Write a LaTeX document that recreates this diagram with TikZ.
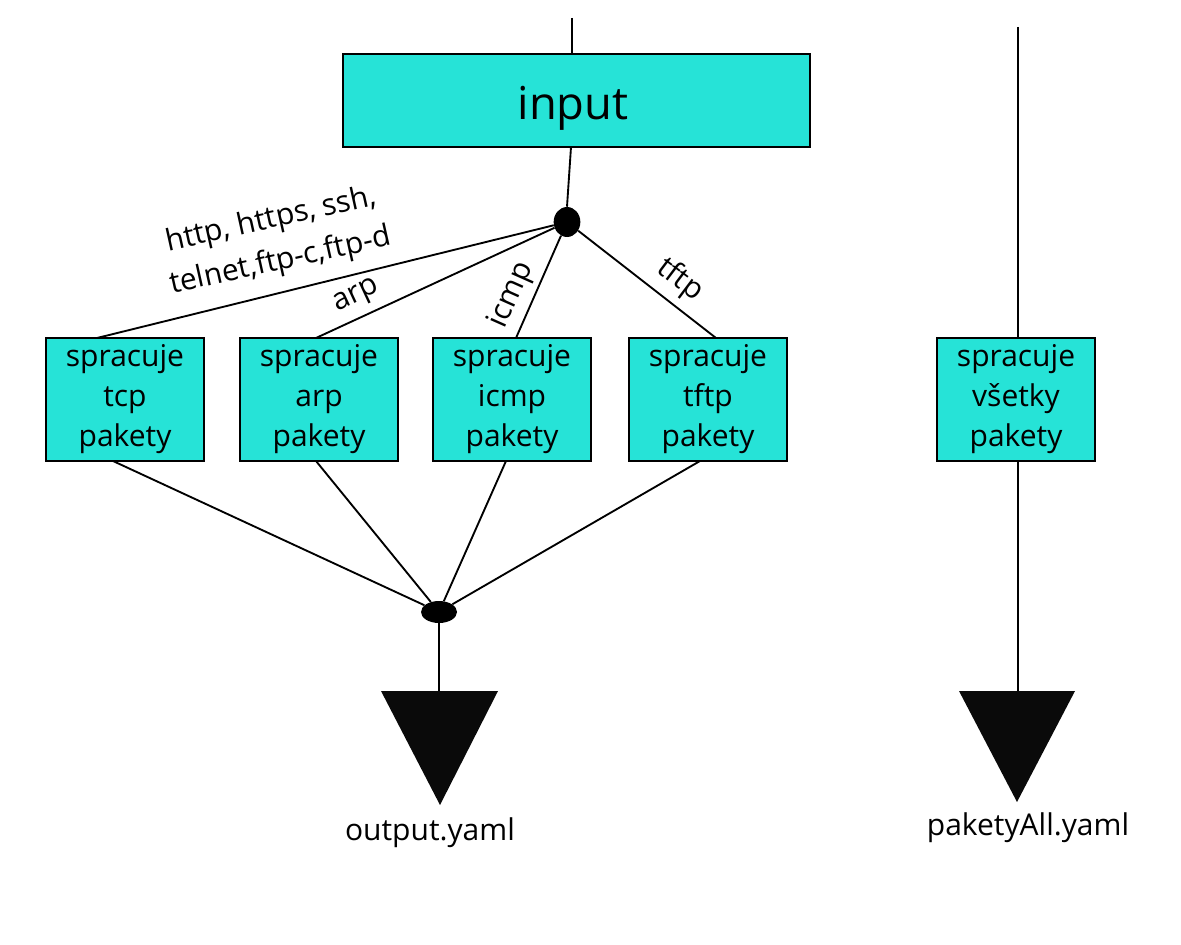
\documentclass[tikz,border=0pt]{standalone}
\usepackage{fontspec}
\setmainfont{Open Sans}
\usetikzlibrary{shapes.geometric}
\definecolor{turq}{RGB}{38,227,215}
\definecolor{ink}{RGB}{10,10,10}
\begin{document}
\begin{tikzpicture}[x=0.75pt,y=-0.75pt,
 box/.style={draw=black, line width=1pt, fill=turq, inner sep=0pt, align=center,
   minimum width=118.5pt, minimum height=92.25pt, font=\fontsize{22.5}{30}\selectfont},
 ln/.style={line width=1.4pt},
 lbl/.style={font=\fontsize{22.5}{32}\selectfont, inner sep=0pt, align=center},
 dot/.style={ellipse, fill=black, inner sep=0pt}]
\useasboundingbox (0,0) rectangle (1181,945);
\fill[white] (0,0) rectangle (1181,945);
% input
\node[box, minimum width=350.25pt, minimum height=69.75pt] (input) at (576.5,100.5) {};
\node[font=\fontsize{34}{40}\selectfont, inner sep=0pt] (intext) at (573,108) {input};
\coordinate (top1) at (572,18);
\draw[ln] (top1) -- (input.north -| top1);
% split node
\node[dot, minimum width=20pt, minimum height=22.5pt] (e1) at (567,222) {};
\coordinate (inb) at (571,147);
\draw[ln] (inb) -- (e1.north);
% boxes
\node[box] (tcp) at (125,399.5) {spracuje\\tcp\\pakety};
\node[box] (arp) at (319,399.5) {spracuje\\arp\\pakety};
\node[box] (icmp) at (512,399.5) {spracuje\\icmp\\pakety};
\node[box] (tftp) at (708,399.5) {spracuje\\tftp\\pakety};
\node[box] (all) at (1016,399.5) {spracuje\\všetky\\pakety};
% attachment points
\coordinate (a1) at (97,338);
\coordinate (a2) at (316,338);
\coordinate (a3) at (516,338);
\coordinate (a4) at (716,338);
\draw[ln] (e1) -- (a1);
\draw[ln] (e1) -- (a2);
\draw[ln] (e1) -- (a3);
\draw[ln] (e1) -- (a4);
% labels
\node[lbl, rotate=12.5] (l1) at (276,241) {http, https, ssh,\\telnet,ftp-c,ftp-d};
\node[lbl, rotate=25] (l2) at (357,297) {arp};
\node[lbl, rotate=66] (l3) at (512,295) {icmp};
\node[lbl, rotate=-37] (l4) at (680,280) {tftp};
% join node
\node[dot, minimum width=27pt, minimum height=16.5pt] (e2) at (439,612) {};
\coordinate (b1) at (113,461);
\coordinate (b2) at (316,461);
\coordinate (b3) at (506,461);
\coordinate (b4) at (700,461);
\draw[ln] (b1) -- (e2);
\draw[ln] (b2) -- (e2);
\draw[ln] (b3) -- (e2);
\draw[ln] (b4) -- (e2);
% output triangle
\coordinate (t1) at (439,691);
\fill[ink] (381,691) -- (498,691) -- (440,805) -- cycle;
\draw[ln] (e2.south) -- (t1);
\node[lbl] (o1) at (430,833) {output.yaml};
% right column
\coordinate (top2) at (1018,27);
\draw[ln] (top2) -- (all.north -| top2);
\coordinate (t2) at (1018,691);
\draw[ln] (all.south -| t2) -- (t2);
\fill[ink] (959,691) -- (1075,691) -- (1017,802) -- cycle;
\node[lbl] (o2) at (1028,828) {paketyAll.yaml};
\end{tikzpicture}
\end{document}
